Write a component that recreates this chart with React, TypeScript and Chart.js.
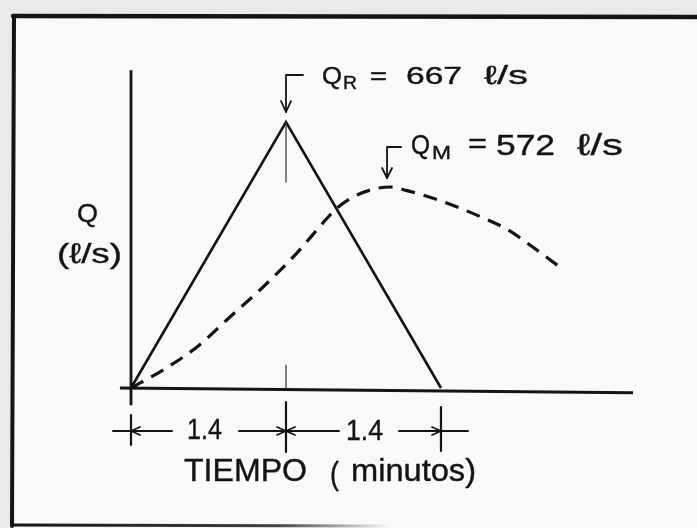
import React, { useEffect, useRef } from "react";
import { Chart, registerables } from "chart.js";

Chart.register(...registerables);

// ---- data ----
// Rational-method triangular hydrograph: time (min) vs Q (l/s)
const triangleTime = [0, 1.4, 2.8];
const triangleQ = [0, 667, 0];

// Measured (dashed) hydrograph
const measuredTime = [0, 0.289, 0.596, 0.894, 1.192, 1.5, 1.734, 1.86, 2.042, 2.34, 2.493, 2.791, 3.153, 3.397, 3.577, 3.875];
const measuredQ = [0, 45, 103, 178, 253, 339, 414, 451, 484, 504, 495, 470, 430, 398, 364, 303];

// Axis lines as drawn
const xAxisTime = [-0.1, 4.535];
const xAxisQ = [0, -12];
const yAxisTime = [0, 0];
const yAxisQ = [-43, 797];

// Dimension ticks (minutes)
const dimTicks = [0, 1.4, 2.8];
const dimLabels = ["1.4", "1.4"];

const labelQR = ["Q", "R", "=", "667", "ℓ/s"];
const labelQM = ["Q", "M", "=", "572", "ℓ/s"];
const yTitle = ["Q", "(ℓ/s)"];
const xTitle = ["TIEMPO", "(", "minutos)"];

const INK = "#141414";
const FONT = '"Liberation Sans", Arial, "DejaVu Sans", sans-serif';

function toPts(xs: number[], ys: number[]) {
  return xs.map((x, i) => ({ x, y: ys[i] }));
}

function fitText(ctx: CanvasRenderingContext2D, text: string, left: number, right: number, baseline: number, size: number) {
  ctx.save();
  ctx.font = `${size}px ${FONT}`;
  ctx.textBaseline = "alphabetic";
  ctx.textAlign = "left";
  const w = ctx.measureText(text).width || 1;
  ctx.translate(left, baseline);
  const sx = (right - left) / w;
  ctx.scale(sx, 1);
  ctx.fillStyle = INK;
  ctx.strokeStyle = INK;
  ctx.lineWidth = 0.4;
  ctx.lineJoin = "round";
  ctx.fillText(text, 0, 0);
  ctx.strokeText(text, 0, 0);
  ctx.restore();
}

function line(ctx: CanvasRenderingContext2D, pts: number[][], width: number, color = INK) {
  ctx.save();
  ctx.strokeStyle = color;
  ctx.lineWidth = width;
  ctx.lineCap = "round";
  ctx.lineJoin = "round";
  ctx.beginPath();
  pts.forEach((p, i) => (i === 0 ? ctx.moveTo(p[0], p[1]) : ctx.lineTo(p[0], p[1])));
  ctx.stroke();
  ctx.restore();
}

const annotPlugin = {
  id: "annot",
  beforeDraw(chart: any) {
    const ctx = chart.ctx as CanvasRenderingContext2D;
    ctx.save();
    ctx.fillStyle = "#e9e9e7";
    ctx.fillRect(0, 0, chart.width, chart.height);
    ctx.fillStyle = "#f9f9f7";
    ctx.fillRect(13, 15, chart.width - 13, chart.height - 15);
    ctx.restore();
  },
  afterDraw(chart: any) {
    const ctx = chart.ctx as CanvasRenderingContext2D;
    const xs = chart.scales.x;
    const ys = chart.scales.y;
    const X = (v: number) => xs.getPixelForValue(v);
    const Y = (v: number) => ys.getPixelForValue(v);

    // frame
    line(ctx, [[13, 16], [697, 17]], 4.5);
    line(ctx, [[14, 16], [12, 526]], 4);
    ctx.save();
    const g = ctx.createLinearGradient(12, 0, 390, 0);
    g.addColorStop(0, "rgba(20,20,20,1)");
    g.addColorStop(0.7, "rgba(20,20,20,0.8)");
    g.addColorStop(1, "rgba(20,20,20,0)");
    ctx.strokeStyle = g;
    ctx.lineWidth = 3;
    ctx.beginPath();
    ctx.moveTo(12, 525);
    ctx.lineTo(390, 526);
    ctx.stroke();
    ctx.restore();

    const base = Y(0);
    const t0 = X(dimTicks[0]);
    const t1 = X(dimTicks[1]);
    const t2 = X(dimTicks[2]);
    const peakY = Y(triangleQ[1]);

    // thin guide lines at the peak time
    line(ctx, [[t1, peakY], [t1, peakY + 60]], 1.2, "#333");
    line(ctx, [[t1, base - 23], [t1, base]], 1.2, "#333");

    // QR arrow
    line(ctx, [[t1 + 17, 75], [t1, 75], [t1, peakY - 10]], 1.8);
    line(ctx, [[t1 - 5, peakY - 21], [t1, peakY - 10], [t1 + 5, peakY - 21]], 1.8);

    // QM arrow at the measured peak
    let mi = 0;
    measuredQ.forEach((q, i) => { if (q > measuredQ[mi]) mi = i; });
    const mx = X(measuredTime[mi]) - 3;
    line(ctx, [[mx + 14, 147], [mx, 147], [mx, 178]], 1.8);
    line(ctx, [[mx - 5, 168], [mx, 178], [mx + 5, 168]], 1.8);

    // dimension line
    const dy = base + 43;
    line(ctx, [[t0 - 18, dy], [t0 + 41, dy]], 2);
    line(ctx, [[t1 - 47, dy], [t1 + 53, dy]], 2);
    line(ctx, [[t2 - 42, dy], [t2 + 27, dy]], 2);
    const head = (x: number, dir: number) =>
      line(ctx, [[x + dir * 9, dy - 4], [x, dy], [x + dir * 9, dy + 4]], 1.8);
    head(t0, 1);
    head(t1, -1);
    head(t1, 1);
    head(t2, -1);
    line(ctx, [[t0, base + 27], [t0, base + 57]], 2.2);
    line(ctx, [[t1, base + 14], [t1, base + 64]], 2.2);
    line(ctx, [[t2, base + 19], [t2, base + 63]], 2.2);

    // texts
    fitText(ctx, dimLabels[0], 187, 222, 439, 29);
    fitText(ctx, dimLabels[1], 346, 383, 440, 29);

    fitText(ctx, xTitle[0], 184, 307, 481, 31);
    fitText(ctx, xTitle[1], 330, 339, 484, 31);
    fitText(ctx, xTitle[2], 351, 476, 481, 31);

    fitText(ctx, yTitle[0], 77, 98, 222, 26);
    fitText(ctx, yTitle[1], 57, 122, 263, 28);

    fitText(ctx, labelQR[0], 322, 342, 84, 24);
    fitText(ctx, labelQR[1], 343, 357, 89, 18);
    fitText(ctx, labelQR[2], 370, 387, 84, 24);
    fitText(ctx, labelQR[3], 406, 462, 84, 24);
    fitText(ctx, labelQR[4], 484, 528, 84, 26);

    fitText(ctx, labelQM[0], 411, 430, 154, 28);
    fitText(ctx, labelQM[1], 432, 451, 159, 18);
    fitText(ctx, labelQM[2], 468, 487, 153, 28);
    fitText(ctx, labelQM[3], 496, 555, 155, 29);
    fitText(ctx, labelQM[4], 577, 623, 155, 30);
  },
};

export default function App() {
  const ref = useRef<HTMLCanvasElement>(null);

  useEffect(() => {
    if (!ref.current) return;
    const chart = new Chart(ref.current, {
      type: "line",
      data: {
        datasets: [
          {
            label: "x-axis",
            data: toPts(xAxisTime, xAxisQ),
            borderColor: INK,
            borderWidth: 3.2,
            pointRadius: 0,
            clip: false as any,
          },
          {
            label: "y-axis",
            data: toPts(yAxisTime, yAxisQ),
            borderColor: INK,
            borderWidth: 2.8,
            pointRadius: 0,
            clip: false as any,
          },
          {
            label: "Q racional",
            data: toPts(triangleTime, triangleQ),
            borderColor: INK,
            borderWidth: 2.6,
            pointRadius: 0,
            tension: 0,
            clip: false as any,
          },
          {
            label: "Q medido",
            data: toPts(measuredTime, measuredQ),
            borderColor: INK,
            borderWidth: 3.2,
            borderDash: [14, 9],
            pointRadius: 0,
            cubicInterpolationMode: "monotone",
            clip: false as any,
          },
        ],
      },
      options: {
        animation: false,
        responsive: false,
        devicePixelRatio: 1,
        layout: { padding: { left: 119.93, right: 63.4, top: 68.96, bottom: 80.2 } },
        plugins: { legend: { display: false }, tooltip: { enabled: false } },
        events: [],
        scales: {
          x: { type: "linear", min: -0.1, max: 4.54, display: false },
          y: { type: "linear", min: -150, max: 800, display: false },
        },
      },
      plugins: [annotPlugin],
    });
    return () => chart.destroy();
  }, []);

  return (
    <div style={{ position: "fixed", left: 0, top: 0, width: 697, height: 528, background: "#f9f9f7" }}>
      <canvas ref={ref} width={697} height={528} style={{ display: "block" }} />
    </div>
  );
}
